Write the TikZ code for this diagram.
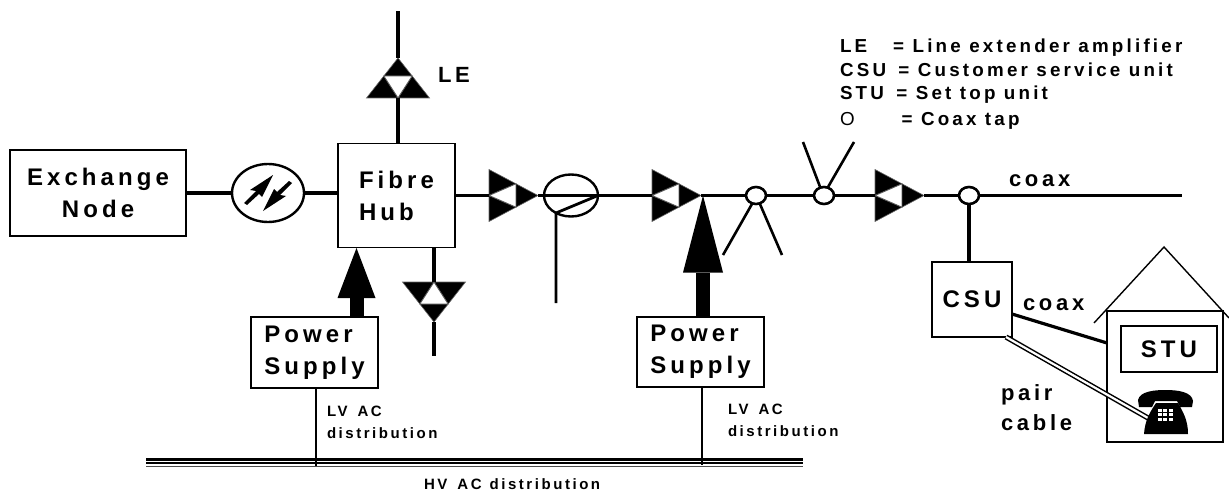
\documentclass[tikz,border=0pt]{standalone}
\usepackage{fontspec}
\setmainfont{Liberation Sans}
\newfontfamily\lblfont[LetterSpace=17]{Liberation Sans}
\usetikzlibrary{arrows.meta,calc,positioning,shapes.geometric}

\begin{document}
\begin{tikzpicture}[x=1pt,y=-1pt,
  every node/.style={inner sep=0pt,outer sep=0pt},
  unitbox/.style={draw,line width=1.7pt,align=left,
    font=\lblfont\bfseries\fontsize{24}{32}\selectfont},
  amp/.style={isosceles triangle,isosceles triangle stretches,anchor=lower side,
    minimum width=52pt,minimum height=49pt,fill=black,draw=black!60,line width=.6pt},
  ampflat/.style={amp,minimum width=63pt,minimum height=40pt},
  ampcore/.style={fill=white,draw=black!65,line width=.9pt},
  tap/.style={ellipse,draw,line width=2.6pt,fill=white,minimum width=20pt,minimum height=17pt},
  ring/.style={ellipse,draw,line width=2.4pt},
  coaxline/.style={line width=3.2pt},
  lvline/.style={line width=1.4pt},
  feedsmall/.style={line width=14pt,-{Triangle[length=50pt,width=38pt,line width=0pt]}},
  feedbig/.style={line width=14pt,-{Triangle[length=77pt,width=40pt,line width=0pt]}},
  pairline/.style={double,line width=1.5pt,double distance=2.2pt},
  lbl/.style={anchor=base west,font=\lblfont\bfseries\fontsize{22}{24}\selectfont},
  lblkey/.style={anchor=base west,font=\lblfont\bfseries\fontsize{18.8}{24}\selectfont},
  lblsmall/.style={anchor=base west,align=left,font=\lblfont\bfseries\fontsize{15}{22}\selectfont}]
\newcommand{\ampnode}[4]{%
  \node[#4,rotate=#3] (#1) at (#2) {};
  \filldraw[ampcore] (#1.lower side) -- ($(#1.left corner)!.55!(#1.apex)$)
    -- ($(#1.right corner)!.55!(#1.apex)$) -- cycle;}
\useasboundingbox (0,0) rectangle (1229,492);
\node[unitbox,align=center,minimum width=176pt,minimum height=86pt] (exchange) at (98,193) {Exchange\\Node};
\node[ring,minimum width=72pt,minimum height=58pt,right=46pt of exchange] (conv) {};
\node[unitbox,minimum width=117pt,minimum height=104pt] (hub) at (396.5,195.5) {Fibre\\Hub};
\node[tap] (tapone) at (756,195.5) {};
\node[tap] (taptwo) at (824,195.5) {};
\node[tap] (tapthree) at (969,195.5) {};
\node[ring,minimum width=54pt,minimum height=42pt] (split) at (571,195.5) {};
\node[unitbox,minimum width=127pt,minimum height=71pt] (supplyone) at (314.5,352.5) {Power\\Supply};
\node[unitbox,minimum width=127pt,minimum height=70pt] (supplytwo) at (700.5,352) {Power\\Supply};
\node[unitbox,minimum width=80pt,minimum height=75pt] (csu) at (972,299.5) {CSU};
\node[draw,line width=1.7pt,minimum width=116pt,minimum height=131pt] (house) at (1165,376.5) {};
\node[unitbox,minimum width=96pt,minimum height=46pt] (stu) at (1169,349) {STU};
\ampnode{ampup}{398,98}{90}{ampflat}
\ampnode{ampdown}{434,282}{-90}{ampflat}
\ampnode{ampa}{489,195.5}{0}{amp}
\ampnode{ampb}{652,195.5}{0}{amp}
\ampnode{ampc}{875,195.5}{0}{amp}
\coordinate (upend) at (398,11);
\coordinate (downend) at (434,356);
\coordinate (coaxend) at (1182,195.5);
\coordinate (splitbend) at (556,213);
\coordinate (splitend) at (556,303);
\coordinate (dropa) at (723,255);
\coordinate (dropb) at (782,255);
\coordinate (risea) at (803,142);
\coordinate (riseb) at (854,142);
\coordinate (feedtip) at (356.5,248);
\coordinate (feedtop) at (703,195.5);
\coordinate (hvwest) at (146,459.5);
\coordinate (hveast) at (803,459.5);
\coordinate (roofwest) at (1094,323);
\coordinate (roofpeak) at (1164,247);
\coordinate (roofeast) at (1229,318);
\coordinate (jack) at (1148,418);
\coordinate (pairstart) at (1006,337);
\draw[coaxline] (exchange)--(conv);
\draw[coaxline] (conv)--(conv -| hub.west);
\draw[coaxline] (hub.north -| ampup.apex)--(ampup.lower side);
\draw[coaxline] (ampup.apex)--(upend);
\draw[coaxline] (hub.south -| ampdown.apex)--(ampdown.lower side);
\draw[coaxline] (ampdown.apex)--(downend);
\draw[coaxline] (hub.east)--(ampa.lower side);
\draw[coaxline] (ampa.apex)--(split.east);
\draw[coaxline] (split.east)--(ampb.lower side);
\draw[coaxline] (ampb.apex)--(tapone);
\draw[coaxline] (tapone)--(taptwo);
\draw[coaxline] (taptwo)--(ampc.lower side);
\draw[coaxline] (ampc.apex)--(tapthree);
\draw[coaxline] (tapthree)--(coaxend);
\draw[coaxline,line width=2.8pt] (split.east)--(splitbend)--(splitend);
\draw[coaxline,line width=2.6pt] (tapone.245)--(dropa);
\draw[coaxline,line width=2.6pt] (tapone.295)--(dropb);
\draw[coaxline,line width=2.6pt] (taptwo.115)--(risea);
\draw[coaxline,line width=2.6pt] (taptwo.65)--(riseb);
\draw[coaxline] (tapthree)--(tapthree |- csu.north);
\draw[coaxline] (csu.east |- 0,314)--(house.west |- 0,343);
\draw[pairline] (pairstart)--(jack);
\draw[feedsmall] (feedtip |- supplyone.north)--(feedtip);
\draw[feedbig] (feedtop |- supplytwo.north)--(feedtop);
\draw[lvline] (supplyone.south)++(1.5,0)--(316,466);
\draw[lvline] (supplytwo.south)++(1.5,0)--(702,465);
\draw[line width=2.6pt] (hvwest)--(hveast);
\draw[line width=1.5pt] ($(hvwest)+(0,3.6)$)--($(hveast)+(0,3.6)$);
\draw[line width=1.5pt,black!70] ($(hvwest)+(0,7)$)--($(hveast)+(0,7)$);
\draw[line width=1.4pt] (roofwest)--(roofpeak)--(roofeast);
\foreach \ang in {0,180} {
  \begin{scope}[shift={(conv.center)},rotate=\ang]
    \fill (5,-18)--(-18,-3)--(-12,-2)--(-24,10)--(-21,12)--(-9,1)--(-6,4)--cycle;
  \end{scope}}
\fill (1139,407)--(1138,400) .. controls (1140,391) and (1155,390) .. (1166,390)
  .. controls (1178,390) and (1192,392) .. (1193,401)--(1192,407)--(1180,407)--(1177,401)
  --(1155,401)--(1152,407)--cycle;
\fill (1156,403)--(1178,403) .. controls (1183,412) and (1188,420) .. (1188,434)--(1144,434)
  .. controls (1145,420) and (1150,412) .. (1156,403)--cycle;
\foreach \col in {0,1,2} \foreach \row in {0,1,2}
  \fill[white] (1158+5.4*\col,409+4.4*\row) rectangle ++(3.8,3);
\node[lbl] (lelabel) at (438,83) {LE};
\node[lbl] (coaxtop) at (1009,186) {coax};
\node[lbl] (coaxhome) at (1023,310) {coax};
\node[lbl] (pairlabel) at (1001,400) {pair};
\node[lbl] (cablelabel) at (1001,430) {cable};
\node[lblkey] (keyle) at (840,53) {LE\hspace{26pt}= Line extender amplifier};
\node[lblkey] (keycsu) at (840,77) {CSU\hspace{4pt} = Customer service unit};
\node[lblkey] (keystu) at (840,100) {STU\hspace{4pt} = Set top unit};
\node[lblkey] (keytap) at (840,126) {{\mdseries O}\hspace{47pt}= Coax tap};
\node[lblsmall] (lvone) at (327,438) {LV\hspace{10pt}AC\\distribution};
\node[lblsmall] (lvtwo) at (728,436) {LV\hspace{10pt}AC\\distribution};
\node[lblsmall] (hvlabel) at (424,489) {HV\hspace{10pt}AC\hspace{8pt}distribution};
\end{tikzpicture}
\end{document}
